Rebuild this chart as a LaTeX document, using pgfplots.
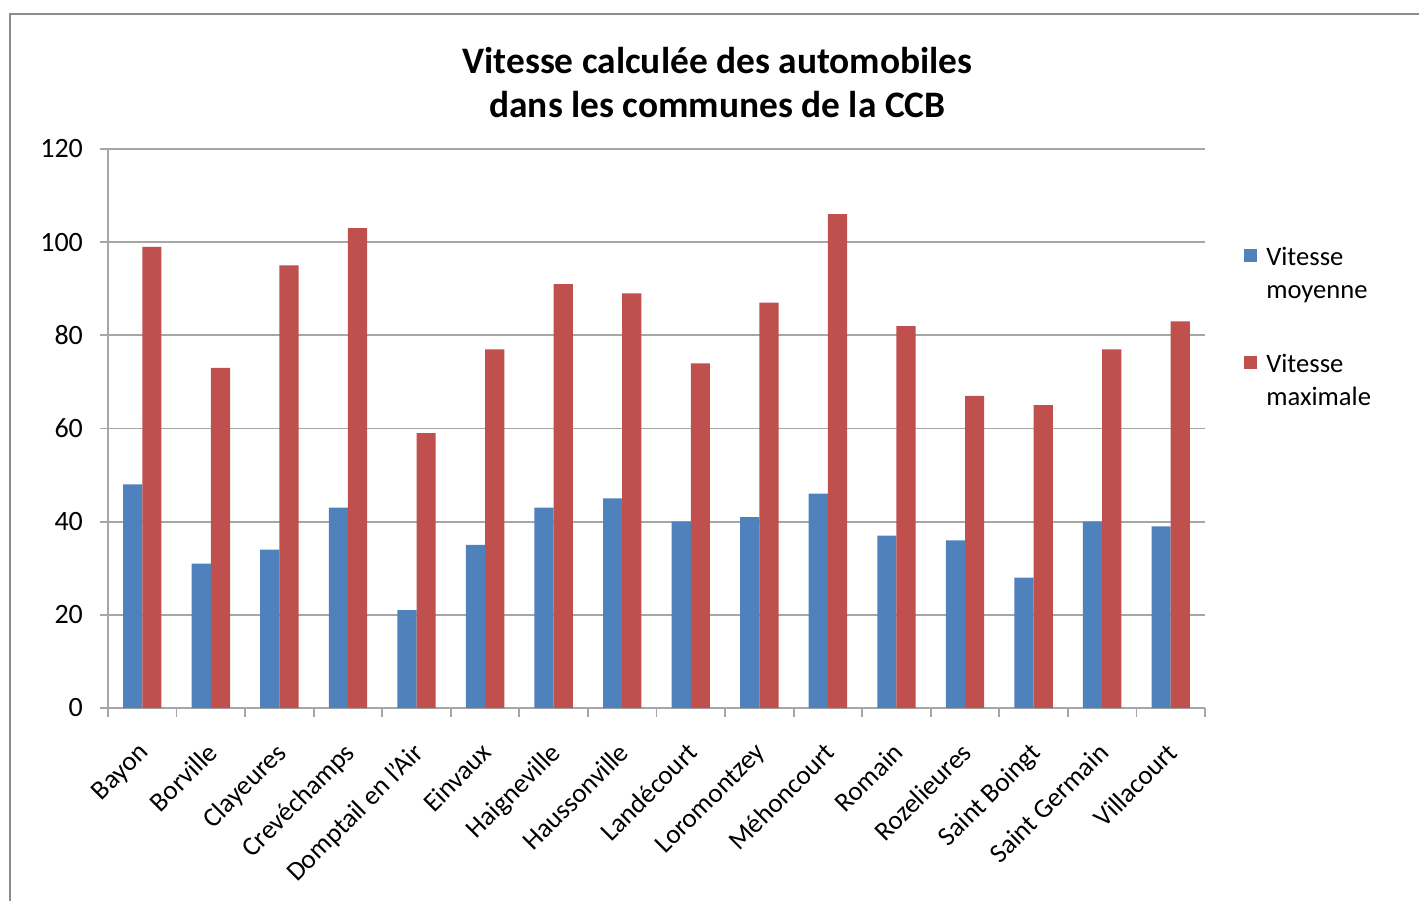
\documentclass[border=0pt]{standalone}
\usepackage{pgfplots}
\pgfplotsset{compat=1.18}
\usepackage{fontspec}
\setmainfont{Carlito}
\definecolor{cblue}{HTML}{4F81BD}
\definecolor{cred}{HTML}{C0504D}
\definecolor{gridc}{HTML}{A6A6A6}
\definecolor{framec}{HTML}{8C8C8C}
\pgfplotstableread{
x moy max
0 48 99
1 31 73
2 34 95
3 43 103
4 21 59
5 35 77
6 43 91
7 45 89
8 40 74
9 41 87
10 46 106
11 37 82
12 36 67
13 28 65
14 40 77
15 39 83
}\speeds
\begin{document}
\begin{tikzpicture}
\useasboundingbox (0,0) rectangle (709.5pt,450.5pt);
\draw[framec, line width=1pt] (5pt,0) -- (5pt,443.5pt) -- (709.5pt,443.5pt);
\node[font=\bfseries\fontsize{18.7}{22}\selectfont, align=center, anchor=base] at (358.75pt,391.5pt) {Vitesse calculée des automobiles\\dans les communes de la CCB};
\begin{axis}[
  at={(54pt,96.5pt)}, anchor=south west,
  scale only axis, width=548.5pt, height=279.5pt,
  ybar=0pt, bar width=0.28,
  ymin=0, ymax=120, xmin=-0.5, xmax=15.5,
  ytick={0,20,...,120},
  ymajorgrids, grid style={gridc, line width=0.9pt},
  axis x line*=bottom, axis y line*=left,
  axis line style={-, gridc, line width=0.9pt},
  xtick={0,...,15},
  xticklabels={Bayon,Borville,Clayeures,Crevéchamps,Domptail en l'Air,Einvaux,Haigneville,Haussonville,Landécourt,Loromontzey,Méhoncourt,Romain,Rozelieures,Saint Boingt,Saint Germain,Villacourt},
  minor xtick={-0.5,0.5,...,15.5},
  major x tick style={draw=none},
  tick align=outside,
  major tick length=4pt, minor tick length=4.5pt,
  tick style={gridc, line width=0.9pt},
  xticklabel style={rotate=45, anchor=north east, font=\fontsize{13.5}{15}\selectfont, inner sep=1pt, yshift=-6pt, xshift=-9.5pt},
  yticklabel style={font=\fontsize{14}{15}\selectfont, xshift=-5pt},
  /pgf/number format/assume math mode=true,
  legend style={at={(1.03,0.84)}, anchor=north west, draw=none, fill=none,
    font=\fontsize{13.3}{16.5}\selectfont, row sep=22.5pt,
    nodes={align=left, inner xsep=4.5pt}},
  legend cell align=left,
  legend image code/.code={\fill[#1] (0pt,6pt) rectangle (6.5pt,12.5pt); \path (0pt,-12.5pt);},
]
\addplot[fill=cblue, draw=none] table[x=x, y=moy] {\speeds};
\addplot[fill=cred, draw=none] table[x=x, y=max] {\speeds};
\legend{Vitesse\\moyenne, Vitesse\\maximale}
\end{axis}
\end{tikzpicture}
\end{document}
